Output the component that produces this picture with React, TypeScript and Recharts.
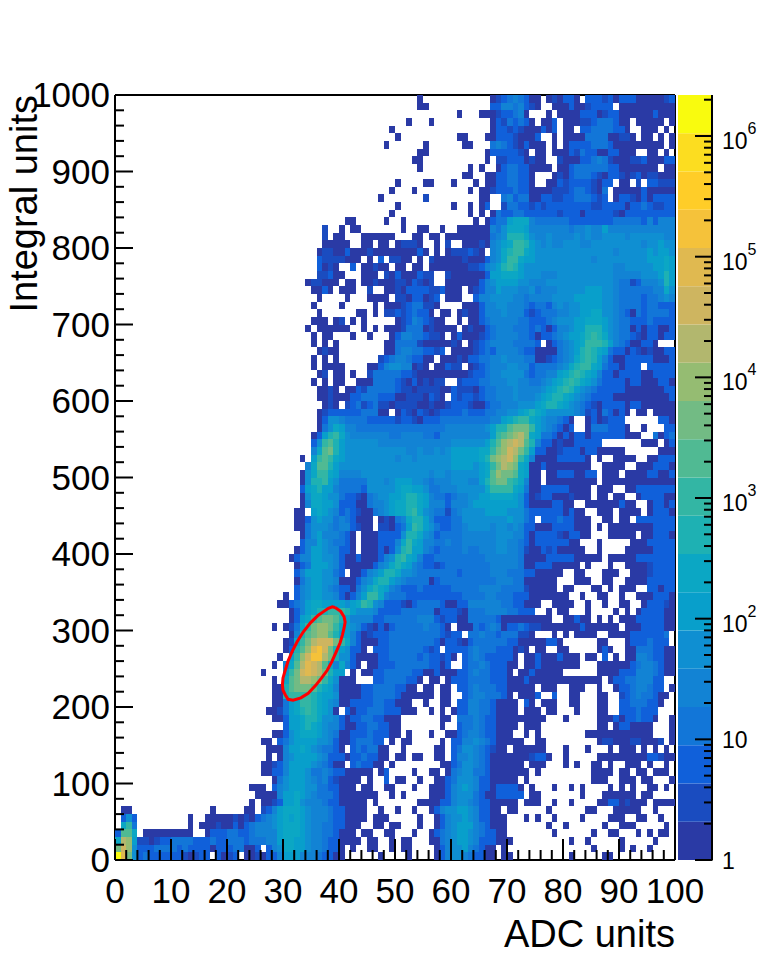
import { BarChart, Bar, XAxis, YAxis, ScatterChart, Scatter, ReferenceLine } from "recharts";

const FONT = "'Liberation Sans', Arial, sans-serif";

// 20 contours of the log z palette, bottom to top
const palette = [
  "#2A3AA5", "#1A4CC0", "#1060DA", "#1276D8", "#1283D4", "#0F8FD2", "#089FCB", "#0BA7C4", "#1EB1B3", "#33B6A4",
  "#50BA93", "#72BB84", "#95BC72", "#B2B76E", "#CEB560", "#E0B950", "#F5C23A", "#FFCD28", "#FCDD20", "#F9FB0E",
];
const levelCodes = ".123456789abcdefghijk";

const xTicks = [0, 2, 4, 6, 8, 10, 12, 14, 16, 18, 20, 22, 24, 26, 28, 30, 32, 34, 36, 38, 40, 42, 44, 46, 48, 50, 52, 54, 56, 58, 60, 62, 64, 66, 68, 70, 72, 74, 76, 78, 80, 82, 84, 86, 88, 90, 92, 94, 96, 98, 100];
const yTicks = [0, 20, 40, 60, 80, 100, 120, 140, 160, 180, 200, 220, 240, 260, 280, 300, 320, 340, 360, 380, 400, 420, 440, 460, 480, 500, 520, 540, 560, 580, 600, 620, 640, 660, 680, 700, 720, 740, 760, 780, 800, 820, 840, 860, 880, 900, 920, 940, 960, 980, 1000];

// log10 of the palette axis ticks
const zMajor = [0, 1, 2, 3, 4, 5, 6];
const zMinor = [0.301, 0.477, 0.602, 0.699, 0.778, 0.845, 0.903, 0.954];
const zMaxLog = 6.34;

// the red selection outline, going round clockwise
const ellipseX = [39.3, 40.3, 40.9, 41.1, 40.9, 40.6, 40.2, 39.5, 38.7, 37.9, 36.9, 35.8, 34.5, 33.2, 31.8, 30.9, 30.4, 30.0, 29.9, 30.0, 30.4, 30.9, 31.6, 32.5, 33.6, 34.9, 36.3, 37.3, 38.1, 38.8, 39.3];
const ellipseY = [330, 325, 318, 311, 303, 294, 284, 272, 259, 248, 238, 228, 218, 212, 209, 210, 216, 222, 229, 238, 248, 260, 272, 285, 298, 310, 320, 325, 329, 331, 330];

// one entry per histogram row, top row first. "col:levels", "." is an empty bin, later pieces overwrite earlier ones
const histRows = [
  "54:1 67:1234543 74:11.121 80:331.333 87:23133311111 98:23",
  "54:11 67:3355453 74:21..11 80:131123 86:333.1111111111",
  "61:1 65:111 68:233451 77:1 79:1111333123311111131 97:111",
  "52:1 56:1 67:1324343 74:1.113.111 83:223444311.1211 94:1111.1",
  "49:1 67:1332321 74:11313.11 83:334444331..11 96:1.1",
  "50:1 61:11 66:1 67:1333211 74:13 77:.1.13 81:111 84:44441 89:1221.13 95:1 96:.1.13",
  "48:1 55:1 62:11 66:.4 68:54321 73:3 74:111.1.11 81:3333444 88:311111 94:1111.1",
  "54:11 66:1 67:33333213 74:.11.11 80:132433 86:1133111..11.1.",
  "53:11 66:1.223331211..2111 83:33454 88:2111223111 98:33",
  "54:1 63:1 65:1..1344333 73:3 74:1111.11 81:34444 86:44 88:33 90:1111111 97:.11",
  "66:3333333333333333333333333333333333 62:11 64:.. 66:11 68:334433 74:1 75:...1 79:2 80:13 82:444 85:3 86:2 87:1 88:3 89:32123 94:1 95:22 97:111",
  "66:3333333333333333333333333333333333 50:1 55:11 60:1 64:1 66:11 68:334433 74:1 75:..11 79:3 80:2 81:33 84:33 85:21 88:3.11 92:.2 94:.2 95:33 97:222",
  "66:3333333333333333333333333333333333 49:1 53:1 63:1 65:11 67:2333 71:4 72:33 74:1111 78:222 81:3 82:4 83:4 85:21 87:4 88:.11111 95:11 97:1111",
  "66:3333333333333333333333333333333333 47:1 55:2 65:1 66:11 67:.. 69:4 70:5 72:44 74:11 78:22 80:33 82:44 84:432 88:.1 90:33 92:21 93:1 94:31 96:333",
  "66:3333333333333333333333333333333333 50:1 60:1 63:1 65:1 67:.. 69:23 70:4 71:4 72:3 73:32 75:3 76:2 77:3 78:3 79:3 80:3 82:33 84:322 87:3 89:3 90:31 92:3 93:3 94:4 96:22 98:3",
  "66:3333333333333333333333333333333333 49:1 63:1 64:.. 65:1 66:.. 67:12 68:4 69:33 71:44 73:33 75:3 76:3 77:33 79:2 80:3 81:3 82:3 83:1 84:3 85:3 86:3 88:321 90:1 91:33 93:3 94:3 96:33 98:3",
  "66:5555555555555555555555555555555555 41:11 48:1 51:1 64:1 66:1 67:33 68:44 70:7 71:8 72:8 73:8 74:5 75:4 76:4 77:4 78:4 79:4 80:4 81:3 82:3 83:33 85:33 87:3 88:3 89:4 90:4 91:4 92:4 93:4 94:3 96:3",
  "66:5555555555555555555555555555555555 37:2 40:1 42:11 51:1 54:11 58:1 61:111111 67:5 68:4 69:6 70:8 71:8 72:8 73:7 74:5 75:5 76:5 78:5 80:5 81:4 82:5 83:5 84:6 85:5 86:5 87:7 88:5 89:5 90:5 91:5 92:5 93:5 94:5 95:5 96:5",
  "66:5555555555555555555555555555555555 37:2 39:11 44:111111 53:11 56:11 59:1111 63:11 65:1 66:1 67:4 68:5 69:6 70:9 71:9 72:9 73:8 74:6 75:5 76:5 77:6 78:5 79:5 80:5 81:5 82:6 83:5 84:6 85:5 86:5 87:6 88:6 89:6 90:6 91:5 92:6 93:6 94:6 95:6 96:6 97:6",
  "37:11111 44:11 47:11 50:1 51:222 54:1 57:1 59:2 60:..1 63:1 64:11 65:2 66:1 67:5 68:6 69:7 70:8 71:a 72:a 73:9 74:7 75:6 76:5 77:6 78:5 79:5 80:6 81:6 82:6 83:5 84:5 85:6 86:6 87:6 88:6 89:6 90:6 91:6 92:6 93:6 94:5 95:6 96:6 97:7 98:6 99:6",
  "36:122 39:11 41:3 42:111 45:2 46:11111111 54:3 55:1 57:1 59:1 60:222 63:3 64:2 65:1 66:.3 67:5 68:6 69:8 70:9 71:a 72:a 73:8 74:7 75:6 76:6 77:6 78:6666666 85:6 86:6 87:6 88:6 89:5 90:6 91:6 92:6 93:6 94:6 95:7 96:6 97:7 98:7 99:6",
  "36:3 37:22 39:22 41:111 45:1 47:3 49:22 51:11 54:1 56:2 57:11111 62:2 63:1 64:1 65:1 66:3 67:5 68:6 69:8 70:a 71:a 72:8 73:7 74:7 75:6 76:666666666 85:5 86:6 87:6 88:6 89:6 90:66 92:6 93:6 94:6 95:7 96:7 97:7 98:8 99:7",
  "36:3 37:1 38:2 39:1 42:3 44:11 46:2 47:11 50:11 53:11 56:1111111 63:2 64:2 65:3 66:5 67:6 68:7 69:9 70:a 71:9 72:7 73:6 74:6 75:6 76:6666666666666 89:5 90:5 91:6 92:6 93:6 94:6 95:6 96:7 97:7 98:8 99:7",
  "36:223 39:11 44:111 48:2 49:1 50:3 51:111 54:3 55:2 56:2 59:2 60:1111 64:11 66:3 67:7 68:7 69:8 70:8 71:8 72:7 73:6 74:6 75:6555666666666 86:6 87:6 88:6 89:5 90:5 91:5 92:5566 96:6 97:7 98:9 99:7",
  "34:122 37:111 41:11 44:11 46:2 47:111 50:22 52:1 53:3 54:2 55:1 56:2 59:11111 64:1 65:3 66:5 67:6 68:7 69:7 70:7 71:7 72:6 73:6 74:5 75:5 76:5 77:6666666 84:6 85:6 86:6 87:6 88:6 89:5 90:4 91:4 92:2 93:3 94:5 95:5 96:5 97:6 98:9 99:7",
  "35:11 37:3 38:1 40:111 45:2 48:11 50:2 51:1 52:3 53:33322 58:3 59:111 63:1 64:2 65:3 66:5 67:5 68:7 69:6 70:6 71:6 72:5 73:5 74:6 75:4 76:5 77:5 78:5 79:6 80:6 81:6 82:6 83:6 84:7 85:7 86:7 87:6 88:6 89:5 90:4 91:4 92:4 93:4 94:4 95:4 96:5 97:5 98:8 99:6",
  "36:1 41:1 45:1111 50:22 52:1 53:33 55:1 56:2 57:3 59:111 63:.1 64:3 65:5 66:5 67:6 68:6 69:6 70:6 71:5 72:5 73:4 74:5 75:5 76:5 77:5 78:6 79:6 80:6 81:6 82:7 83:7 84:7 85:7 86:7 87:6 88:6 89:5 90:4 91:4 92:4 93:4 94:3 95:4 96:4 97:5 98:6 99:5",
  "35:1 40:1 46:1 48:111 51:2 52:3 53:44 55:22 57:1 62:11 64:1 65:3 66:5 67:5 68:6 69:6 70:5 71:5 72:5 73:4 74:3 75:4 76:4 77:3 78:5 79:6 80:5 81:6 82:6 83:7 84:7 85:7 86:7 87:6 88:6 89:5 90:4 91:4 92:4 93:4 94:3 95:4 96:4 97:3 98:3 99:3",
  "36:1 43:11 46:1 48:22 50:3 51:2 52:3 53:4 54:33 56:1 58:11 61:1 62:21 64:1 65:3 66:5 67:5 68:5 69:6 70:5 71:5 72:5 73:3 74:2 75:3 76:4 77:4 78:4 79:5 80:5 81:6 82:6 83:7 84:7 85:8 86:8 87:6 88:6 89:5 90:4 91:3 92:1 93:4 94:3 95:4 96:4 97:4 98:4 99:3",
  "35:111 39:12 42:1 44:1 50:1 51:2 52:3 53:5 54:4 55:3 56:2 57:11 61:1 63:1 64:1 65:3 66:4 67:5 68:5 69:5 70:5 71:5 72:4 73:4 74:3 75:3 76:3 77:4 78:5 79:6 80:6 81:6 82:7 83:7 84:8 85:8 86:8 87:7 88:6 89:5 90:4 91:4 92:3 93:3 94:3 95:4 96:3 97:3 98:3 99:3",
  "34:1 36:111111 44:1 46:1 48:111 51:2 52:444 55:1 56:2 57:1111 62:1 63:2 64:1 65:1 66:3 67:4 68:5 69:5 70:5 71:4 72:4 73:4 74:3 75:4 76:3 77:1 78:3 79:5 80:5 81:6 82:7 83:7 84:9 85:9 86:9 87:7 88:6 89:5 90:4 91:4 92:1 93:3 94:1 95:3 96:3 97:1 98:1 99:3",
  "35:1 37:11 42:1 45:1 49:1 50:3 51:55 53:44 55:3 56:22 58:1 60:1 61:3 62:11 64:1 65:2 66:3 67:4 68:5 69:5 70:5 71:5 72:4 73:4 74:3 75:1 76:3 77:3 78:4 79:5 80:6 81:7 82:7 83:8 84:9 85:a 86:9 87:8 88:6 89:5 90:4 91:4 92:3 93:2 94:1 95:3 96:3 97:1 98:3 99:3",
  "35:1 37:1 39:1 48:11 50:4444 54:2 55:11111 60:2 61:1 63:1 64:2 65:3 66:4 67:5 68:5 69:5 70:5 71:4 72:4 73:4 74:4 75:3 76:. 77:1 78:3 79:4 80:5 81:6 82:7 83:8 84:a 85:a 86:a 87:9 88:7 89:5 90:4 91:3 92:1 93:1 94:3 95:3 96:1 97:.",
  "36:1 37:211 48:11 50:45544 55:3 56:3 57:2 58:3 60:1111 64:2 65:3 66:4 67:3 68:5 69:5 70:5 71:5 72:4 73:3 74:3 75:1 76:1 77:1 78:1 79:4 80:5 81:6 82:7 83:9 84:a 85:9 86:8 87:7 88:4 89:3 90:3 91:1 92:3 93:2 94:1 95:2 96:1 97:1 98:3 99:3",
  "35:1 37:1 39:1 47:23 49:4 50:55 52:4 53:33 55:11 58:111 61:2 62:1 63:33 65:4 66:4 67:5 68:5 69:6 70:5 71:5 72:5 73:4 74:4 75:1 76:1 77:2 78:3 79:4 80:5 81:6 82:8 83:9 84:a 85:9 86:7 87:5 88:3 89:1 90:1 91:3 92:3 93:3 94:3 95:3 96:1 97:1 98:1 99:3",
  "35:1 37:1111 45:11 47:3 48:5 49:6 50:6 51:5 52:5 53:1 54:2 55:1 57:11 59:3 60:22 63:1 64:2 65:3 66:4 67:5 68:5 69:5 70:6 71:6 72:5 73:5 74:3 75:4 76:4 77:4 78:4 79:5 80:6 81:8 82:9 83:a 84:a 85:8 86:7 87:4 88:3 89:3 90:1 91:3 92:3 93:3 94:.1 95:3 96:3 97:3 98:3 99:3",
  "36:1 37:2 39:11 42:1 45:2 46:4444 50:4 51:33 53:2 54:1 55:1111 59:1 60:111 63:2 64:3 65:3 66:4 67:5 68:5 69:6 70:6 71:6 72:6 73:4 74:3 75:4 76:4 77:5 78:5 79:7 80:8 81:9 82:a 83:9 84:8 85:7 86:5 87:3 88:3 89:1 90:3 91:3 92:3 93:3 94:1 95:1 96:3 97:3 98:3 99:3",
  "35:1 37:1 39:11 43:11 45:1 46:4444 50:3 51:2 52:1 53:3 54:1 55:2 56:1 57:22 59:.. 61:2 62:3 63:3 64:3 65:4 66:4 67:5 68:5 69:5 70:6 71:6 72:5 73:5 74:4 75:4 76:5 77:6 78:7 79:8 80:9 81:a 82:9 83:8 84:7 85:6 86:4 87:3 88:3 89:3 90:3 91:1 92:3 93:3 94:1 95:1 96:1 97:3 98:3 99:1",
  "36:112 39:1 41:11 43:3 44:2 45:4444 49:43 51:22 53:1 54:2222 58:11 60:3 61:222 64:1 65:3 66:4 67:4 68:5 69:5 70:5 71:6 72:5 73:5 74:5 75:5 76:6 77:7 78:8 79:9 80:a 81:9 82:7 83:6 84:5 85:4 86:3 87:3 88:3 89:3 90:3 91:1 92:1 93:1 94:1 95:1 96:1 97:1 98:3 99:3",
  "36:112 39:111 42:33 44:444 47:333 50:11 52:222 55:1 56:3 57:2 58:1 59:. 60:3 61:2 62:33 64:2 65:3 66:4 67:4 68:5 69:5 70:5 71:6 72:5 73:5 74:5 75:6 76:7 77:8 78:9 79:9 80:8 81:7 82:6 83:5 84:4 85:3 86:3 87:3 88:3 89:1 90:1 91:1 92:1 93:1 94:1 95:1 96:1 97:1 98:1 99:3",
  "37:12 39:1 41:2 42:3 43:4 44:2 45:3 46:4 47:22 49:1 50:2222 54:11 56:2 57:11 59:2 60:33 62:3 63:2 64:1 65:1 66:3 67:4 68:4 69:5 70:5 71:5 72:6 73:6 74:6 75:7 76:8 77:9 78:9 79:8 80:7 81:6 82:5 83:4 84:3 85:2 86:1 87:3 88:3 89:3 90:3 91:1 92:3 93:3 94:1 95:1 96:1 97:1 98:1 99:1",
  "36:1 37:233333 43:3 44:444 47:11 49:. 50:1 51:3 52:2 53:1 54:3 55:2 56:1 57:2 58:333 61:3 62:4 63:3 64:3 65:3 66:4 67:4 68:5 69:5 70:6 71:6 72:7 73:8 74:9 75:8 76:7 77:6 78:6 79:6 80:6 81:6 82:5 83:4 84:2 85:3 86:1 87:4 88:3 89:1 90:3 91:1 92:. 93:1 94:1 95:.1 97:1 98:1 99:1",
  "36:1 37:3 38:6 39:6 40:5 41:4444 45:33333 50:2 51:33 53:2 54:1 55:3 56:3 57:3 58:4 59:4 60:4 61:4 62:4 63:4 64:4 65:4 66:4 67:5 68:5 69:7 70:8 71:9 72:a 73:a 74:8 75:7 76:6 77:5 78:5 79:4 80:3 81:1 82:.. 84:1 85:3 86:1 87:2 88:3 89:3 90:3 91:.. 93:. 94:. 95:. 96:. 97:3 98:3 99:1",
  "36:1 37:4 38:6 39:8 40:7 41:5 42:5 43:4 44:4 45:4 46:4 47:4 48:4 49:4 50:4 51:4 52:4 53:4 54:4 55:4 56:4 57:4 58:4 59:5 60:5 61:5 62:5 63:5 64:5 65:5 66:6 67:7 68:9 69:9 70:b 71:c 72:c 73:c 74:a 75:7 76:6 77:5 78:4 79:3 80:1 81:3 82:.. 84:1 85:4 86:4 87:4 88:3 89:3 90:3 91:1 92:.. 94:1 95:. 96:.. 98:3 99:3",
  "35:1 36:3 37:7 38:9 39:a 40:8 41:6 42:5 43:5 44:5 45:5 46:5 47:5 48:5 49:4 50:4 51:5 52:5 53:5 54:5 55:4 56:4 57:3 58:5 59:5 60:5 61:5 62:5 63:5 64:5 65:5 66:5 67:7 68:a 69:b 70:c 71:d 72:e 73:c 74:8 75:7 76:4 77:4 78:3 79:1 80:3 81:1 82:3 83:3 84:1 85:3 86:3 87:3 88:3 89:3 90:3 91:1 92:1 93:1 94:.. 96:4 97:1 98:3 99:4",
  "35:3 36:6 37:a 38:b 39:9 40:7 41:6 42:6 43:6 44:6 45:6 46:6 47:5 48:5 49:5 50:5 51:5 52:5 53:5 54:5 55:5 56:5 57:5 58:5 59:5 60:6 61:6 62:6 63:6 64:6 65:6 66:7 67:9 68:b 69:d 70:e 71:f 72:e 73:b 74:9 75:5 76:3 77:3 78:1 79:2 80:1 81:1 82:3 83:3 84:3 85:3 86:3 87:.. 89:. 90:. 91:.. 93:. 94:1 95:1 96:1 97:. 98:1 99:3",
  "35:5 36:8 37:b 38:c 39:9 40:7 41:6 42:6 43:6 44:6 45:6 46:6 47:6 48:6 49:6 50:6 51:6 52:5 53:5 54:6 55:5 56:5 57:6 58:5 59:6 60:7 61:7 62:7 63:7 64:7 65:8 66:8 67:a 68:c 69:d 70:f 71:e 72:c 73:a 74:7 75:3 76:3 77:1 78:1 79:2 80:3 81:3 82:3 83:1 84:3 85:3 86:1 87:1 88:1 89:1 90:1 91:.. 93:. 94:. 95:.. 97:1 98:1 99:1",
  "33:1 34:. 35:7 36:a 37:b 38:a 39:8 40:7 41:6 42:6 43:6 44:6 45:6 46:6 47:6 48:6 49:6 50:5 51:6 52:6 53:5 54:6 55:6 56:6 57:6 58:6 59:6 60:7 61:7 62:7 63:7 64:7 65:8 66:9 67:c 68:d 69:e 70:f 71:d 72:a 73:8 74:5 75:1 76:1 77:1 78:1 79:3 80:3 81:3 82:3 83:3 84:1 85:. 86:1 87:. 88:. 89:1 90:1 91:1 92:1 93:.. 95:1 96:1 97:3 98:3 99:3",
  "34:5 35:8 36:b 37:b 38:9 39:7 40:6 41:6 42:6 43:6 44:6 45:6 46:6 47:6 48:6 49:6 50:6 51:6 52:6 53:6 54:6 55:6 56:6 57:6 58:6 59:6 60:7 61:7 62:7 63:7 64:6 65:7 66:8 67:a 68:c 69:e 70:d 71:c 72:8 73:7 74:1 75:1 76:3 77:1 78:1 79:1 80:1 81:1 82:1 83:1 84:1 85:.. 87:1 88:1 89:1 90:1 91:.1 92:.1 94:1 95:1 96:3 97:3 98:3 99:1",
  "33:1 34:6 35:8 36:a 37:a 38:8 39:7 40:5 41:5 42:5 43:5 44:6 45:6 46:6 47:6 48:6 49:6 50:6 51:6 52:6 53:6 54:6 55:6 56:5 57:6 58:6 59:5 60:6 61:6 62:6 63:6 64:6 65:7 66:8 67:b 68:d 69:c 70:c 71:b 72:8 73:7 74:1 75:1 76:. 77:1 78:1 79:3 80:3 81:3 82:1 83:1 84:3 85:3 86:.1 87:1 88:1 89:1 90:.1 91:1 92:1 93:1 94:1 95:3 96:3 97:1 98:1 99:3",
  "33:1 34:6 35:9 36:9 37:a 38:7 39:6 40:4 41:4 42:4 43:4 44:4 45:6 46:6 47:6 48:5 49:6 50:7 51:7 52:7 53:6 54:6 55:5 56:4 57:5 58:5 59:5 60:6 61:6 62:6 63:5 64:5 65:7 66:9 67:b 68:c 69:c 70:a 71:9 72:8 73:5 74:1 75:1 76:. 77:1 78:1 79:1 80:1 81:1 82:1 83:1 84:1 85:1 86:. 87:1 88:1 89:1 90:1 91:1 92:1 93:1 94:1 95:1 96:1 97:1 98:1 99:1",
  "33:3 34:7 35:8 36:9 37:7 38:7 39:5 40:4 41:4 42:4 43:4 44:3 45:6 46:6 47:6 48:6 49:6 50:7 51:8 52:8 53:7 54:7 55:6 56:4 57:4 58:5 59:5 60:5 61:6 62:6 63:6 64:6 65:6 66:8 67:a 68:a 69:a 70:a 71:8 72:7 73:4 74:1 75:1 76:3 77:3 78:3 79:3 80:3 81:1 82:1 83:1 84:1 85:.1 87:1 88:1 89:.1 90:.1 91:1 92:1 93:3 94:3 95:3 96:3 97:3 98:3 99:3",
  "33:1 34:6 35:8 36:8 37:7 38:6 39:6 40:4 41:3 42:3 43:2 44:1 45:4 46:5 47:6 48:6 49:7 50:7 51:8 52:9 53:9 54:8 55:7 56:5 57:4 58:4 59:3 60:4 61:5 62:5 63:6 64:6 65:7 66:7 67:8 68:8 69:8 70:8 71:7 72:6 73:3 74:1 75:2 76:3 77:3 78:1 79:1 80:1 81:2 82:1 83:1 84:1 85:. 86:1 87:1 88:. 89:1 90:1 91:.1 92:.1 93:1 94:3 95:3 96:3 97:3 98:1 99:1",
  "33:1 34:5 35:8 36:8 37:7 38:7 39:6 40:3 41:3 42:3 43:1 44:1 45:4 46:5 47:5 48:6 49:7 50:8 51:8 52:9 53:9 54:8 55:7 56:5 57:5 58:5 59:3 60:5 61:5 62:5 63:6 64:7 65:7 66:7 67:7 68:7 69:7 70:7 71:7 72:6 73:3 74:1 75:1 76:1 77:1 78:3 79:3 80:1 81:1 82:.1 83:.1 84:1 85:1 86:1 87:1 88:1 89:1 90:3 91:1 92:1 93:.1 94:.1 95:1 96:3 97:3 98:1 99:3",
  "32:11 34:.4 35:7 36:8 37:7 38:6 39:5 40:3 41:4 42:3 43:2 44:1 45:1 46:4 47:5 48:6 49:7 50:8 51:8 52:9 53:a 54:8 55:6 56:5 57:4 58:4 59:2 60:4 61:5 62:6 63:6 64:6 65:6 66:7 67:7 68:7 69:7 70:6 71:6 72:6 73:4 74:3 75:3 76:3 77:3 78:3 79:3 80:1 81:3 82:1 83:1 84:.1 85:.1 87:1 88:1 89:.1 90:1 91:1 92:1 93:1 94:.1 96:3 97:3 98:3 99:1",
  "32:11 34:3 35:6 36:7 37:6 38:6 39:4 40:5 41:4 42:3 43:1 44:1 45:1 46:. 47:1 48:2 49:1 50:4 51:5 52:8 53:9 54:9 55:7 56:5 57:3 58:3 59:3 60:4 61:4 62:6 63:6 64:6 65:6 66:6 67:6 68:6 69:6 70:7 71:6 72:6 73:4 74:3 75:. 76:3 77:3 78:3 79:4 80:3 81:3 82:1 83:1 84:1 85:.1 86:.1 87:1 88:1 89:.1 90:1 91:1 92:.1 93:3 94:3 95:3 96:3 97:3 98:3 99:3",
  "32:11 33:1 34:4 35:6 36:6 37:6 38:5 39:4 40:5 41:5 42:3 43:2 44:1 45:1 46:. 47:2 48:2 49:1 50:3 51:4 52:7 53:a 54:9 55:7 56:6 57:4 58:3 59:3 60:4 61:4 62:5 63:6 64:6 65:6 66:6 67:5 68:6 69:6 70:5 71:6 72:5 73:3 74:3 75:1 76:1 77:1 78:3 79:3 80:3 81:3 82:1 83:1 84:1 85:. 86:1 87:. 88:1 89:1 90:1 91:1 92:1 93:1 94:1 95:1 96:3 97:3 98:3 99:3",
  "33:1 34:4 35:6 36:7 37:5 38:5 39:5 40:4 41:3 42:1 43:. 44:1 45:1 46:1 47:3 48:3 49:3 50:3 51:6 52:9 53:9 54:8 55:6 56:5 57:3 58:4 59:4 60:4 61:4 62:5 63:5 64:5 65:5 66:5 67:5 68:6 69:6 70:6 71:5 72:5 73:3 74:1 75:3 76:3 77:3 78:3 79:2 80:1 81:3 82:3 83:1 84:1 85:.. 87:.1 88:1 89:1 90:1 91:1 92:1 93:. 94:1 95:1 96:3 97:3 98:3 99:1",
  "33:3 34:5 35:5 36:7 37:6 38:5 39:4 40:4 41:3 42:1 43:. 44:1 45:1 46:1 47:3 48:3 49:3 50:5 51:8 52:a 53:8 54:7 55:5 56:5 57:4 58:4 59:5 60:4 61:4 62:5 63:5 64:5 65:5 66:5 67:5 68:6 69:6 70:5 71:5 72:4 73:3 74:1 75:3 76:3 77:3 78:3 79:3 80:3 81:1 82:1 83:.1 84:.1 85:.1 87:.. 89:... 92:1 93:1 94:1 95:3 96:3 97:3 98:3 99:3",
  "32:1 33:3 34:5 35:7 36:7 37:6 38:5 39:5 40:3 41:3 42:1 43:. 44:1 45:1 46:1 47:3 48:1 49:3 50:6 51:9 52:a 53:7 54:7 55:5 56:4 57:3 58:4 59:4 60:4 61:4 62:5 63:4 64:4 65:5 66:5 67:5 68:6 69:6 70:5 71:5 72:4 73:2 74:1 75:1 76:3 77:2 78:3 79:1 80:1 81:1 82:1 83:1 84:.. 86:1 87:.. 89:.. 91:1 92:1 93:1 94:1 95:1 96:3 97:3 98:3 99:3",
  "31:1 32:3 33:5 34:5 35:7 36:7 37:6 38:6 39:5 40:3 41:1 42:1 43:3 44:1 45:1 46:1 47:3 48:5 49:6 50:9 51:a 52:8 53:7 54:5 55:3 56:3 57:4 58:4 59:4 60:4 61:4 62:4 63:4 64:4 65:4 66:5 67:5 68:5 69:5 70:5 71:5 72:4 73:1 74:1 75:1 76:1 77:3 78:3 79:3 80:3 81:3 82:1 83:1 84:1 85:1 86:1 87:.1 88:1 89:1 90:1 91:1 92:1 93:3 94:3 95:3 96:3 97:3 98:3 99:3",
  "32:1 33:3 34:4 35:7 36:7 37:7 38:6 39:5 40:3 41:1 42:1 43:1 44:1 45:1 46:3 47:5 48:6 49:8 50:9 51:8 52:7 53:5 54:4 55:3 56:3 57:2 58:3 59:4 60:4 61:4 62:4 63:4 64:4 65:4 66:4 67:5 68:5 69:5 70:5 71:5 72:4 73:1 74:1 75:3 76:3 77:3 78:1 79:1 80:1 81:1 82:1 83:.1 84:1 85:.. 87:.1 88:1 89:.. 91:1 92:1 93:1 94:1 95:2 96:3 97:3 98:3 99:3",
  "32:3 33:5 34:7 35:7 36:7 37:6 38:6 39:4 40:3 41:. 42:1 43:1 44:3 45:5 46:6 47:7 48:9 49:9 50:8 51:6 52:6 53:5 54:4 55:4 56:4 57:4 58:4 59:4 60:4 61:3 62:4 63:4 64:4 65:4 66:4 67:5 68:5 69:5 70:4 71:4 72:4 73:3 74:3 75:1 76:1 77:1 78:1 79:1 80:.1 81:.1 82:1 83:1 84:.. 86:.1 87:1 88:1 89:1 90:.. 92:1 93:1 94:1 95:2 96:3 97:3 98:3 99:3",
  "32:1 33:4 34:6 35:7 36:7 37:6 38:6 39:5 40:1 41:1 42:1 43:3 44:5 45:6 46:8 47:9 48:9 49:7 50:6 51:5 52:4 53:4 54:4 55:4 56:1 57:3 58:4 59:4 60:4 61:4 62:4 63:4 64:4 65:4 66:4 67:4 68:5 69:5 70:5 71:4 72:4 73:1 74:1 75:1 76:1 77:1 78:1 79:.1 80:.1 81:. 82:1 83:1 84:1 85:.. 87:1 88:1 89:.. 91:1 92:1 93:1 94:1 95:3 96:3 97:3 98:3 99:3",
  "32:3 33:5 34:6 35:7 36:7 37:6 38:5 39:4 40:3 41:3 42:1 43:4 44:6 45:8 46:9 47:8 48:7 49:5 50:4 51:3 52:3 53:3 54:4 55:3 56:3 57:3 58:3 59:3 60:4 61:4 62:4 63:4 64:4 65:5 66:5 67:5 68:5 69:4 70:4 71:4 72:4 73:2 74:1 75:1 76:1 77:1 78:1 79:. 80:1 81:1 82:.1 83:. 84:.1 85:1 86:1 87:.1 88:1 89:.1 90:1 91:1 92:1 93:.1 94:.1 95:3 96:3 97:1 98:3 99:3",
  "30:1 32:3 33:5 34:6 35:7 36:7 37:6 38:6 39:5 40:3 41:1 42:3 43:5 44:7 45:a 46:a 47:8 48:5 49:4 50:4 51:4 52:3 53:3 54:3 55:3 56:3 57:3 58:3 59:3 60:3 61:3 62:4 63:4 64:4 65:4 66:5 67:5 68:4 69:4 70:4 71:3 72:3 73:3 74:1 75:1 76:1 77:1 78:1 79:1 80:1 81:.. 83:1 84:.. 86:1 87:1 88:.. 90:1 91:.. 93:1 94:1 95:1 96:3 97:3 98:3 99:1",
  "29:11 31:3 32:4 33:5 34:7 35:8 36:8 37:7 38:7 39:7 40:7 41:6 42:7 43:8 44:a 45:9 46:6 47:5 48:3 49:3 50:3 51:2 52:1 53:3 54:4 55:4 56:4 57:4 58:3 59:1 60:1 61:3 62:3 63:5 64:5 65:5 66:5 67:5 68:5 69:4 70:4 71:3 72:3 73:1 74:1 75:1 76:.. 78:1 79:1 80:1 81:1 82:.. 84:1 85:.1 86:. 87:1 88:.. 90:1 91:1 92:.. 94:1 95:3 96:3 97:3 98:2 99:1",
  "31:1 32:3 33:5 34:7 35:8 36:a 37:b 38:b 39:b 40:a 41:7 42:7 43:6 44:6 45:6 46:5 47:3 48:3 49:3 50:3 51:4 52:4 53:4 54:4 55:4 56:4 57:1 58:3 59:3 60:3 61:2 62:1 63:4 64:4 65:4 66:5 67:5 68:5 69:5 70:4 71:4 72:3 73:3 74:3 75:.. 77:1 78:. 79:1 80:1 81:.. 84:1 85:.. 87:.. 89:1 90:. 91:1 92:. 93:1 94:3 95:3 96:3 97:3 98:1 99:1 34:7899aaa97",
  "31:1 32:3 33:6 34:8 35:9 36:b 37:c 38:d 39:c 40:a 41:7 42:5 43:5 44:5 45:5 46:3 47:3 48:4 49:4 50:4 51:4 52:4 53:4 54:5 55:5 56:5 57:3 58:2 59:3 60:3 61:1 62:1 63:4 64:4 65:4 66:4 67:4 68:3 69:1 70:1 71:1 72:1 73:1 74:1 75:1 76:1 77:1 78:.. 80:1 81:1 82:3 83:1 84:1 85:.1 88:1 89:.1 90:1 91:1 92:1 93:3 94:3 95:3 96:3 97:3 98:1 99:1 33:78abccb97",
  "28:1 30:1 31:2 32:4 33:7 34:9 35:b 36:c 37:e 38:d 39:c 40:a 41:7 42:6 43:5 44:3 45:2 46:1 47:3 48:1 49:3 50:4 51:4 52:4 53:4 54:4 55:5 56:4 57:4 58:3 59:1 60:. 61:1 62:1 63:1 64:4 65:3 66:4 67:5 68:4 69:1 70:3 71:3 72:4 73:3 74:2 75:2 76:1 77:1 78:1 79:1 80:1 81:1 82:1 83:3 84:1 85:1 86:1 87:1 88:1 89:1 90:.1 91:1 92:1 93:1 94:3 95:3 96:3 97:3 98:1 99:1 33:8acddca87",
  "31:1 32:5 33:8 34:a 35:c 36:e 37:f 38:f 39:d 40:a 41:7 42:5 43:3 44:1 45:2 46:3 47:3 48:3 49:4 50:4 51:4 52:4 53:4 54:4 55:4 56:4 57:4 58:3 59:2 60:3 61:3 62:.1 63:4 64:4 65:5 66:4 67:4 68:3 69:4 70:4 71:4 72:2 73:2 74:1 75:.. 77:. 78:1 79:.1 81:.1 82:1 83:1 84:1 85:1 86:.. 88:1 89:1 90:1 91:1 92:3 93:3 94:3 95:3 96:3 97:3 98:4 99:. 33:9bcddb97",
  "30:1 31:2 32:5 33:9 34:b 35:d 36:f 37:g 38:g 39:d 40:a 41:6 42:5 43:3 44:1 45:1 46:1 47:3 48:3 49:4 50:4 51:4 52:4 53:4 54:4 55:4 56:4 57:3 58:1 59:3 60:3 61:2 62:1 63:3 64:4 65:4 66:4 67:4 68:4 69:4 70:3 71:3 72:1 73:1 74:1 75:1 76:1 77:3 78:3 79:1 80:. 81:.. 83:.. 85:.1 86:1 87:1 88:.. 90:.1 91:1 92:3 93:3 94:3 95:4 96:3 97:3 98:3 99:. 32:8acefffca8",
  "30:1 31:3 32:7 33:a 34:c 35:e 36:g 37:i 38:h 39:e 40:a 41:6 42:3 43:3 44:1 45:. 46:3 47:3 48:3 49:4 50:4 51:4 52:4 53:4 54:4 55:3 56:2 57:3 58:.3 59:3 60:3 61:3 62:3 63:4 64:5 65:4 66:4 67:4 68:3 69:3 70:3 71:1 72:2 73:1 74:.1 76:1 77:.1 78:.1 79:1 80:1 81:.. 83:.. 85:. 86:1 87:3 88:1 89:.. 91:1 92:1 93:4 94:4 95:4 96:3 97:3 98:1 99:1 32:9bdghfc97",
  "29:1 31:4 32:8 33:b 34:d 35:g 36:h 37:i 38:f 39:d 40:9 41:6 42:3 43:1 44:1 45:1 46:1 47:3 48:3 49:4 50:4 51:4 52:4 53:4 54:3 55:4 56:3 57:3 58:2 59:3 60:1 61:.3 62:3 63:4 64:5 65:4 66:3 67:3 68:3 69:3 70:3 71:1 72:.1 73:1 74:1 75:3 76:1 77:1 78:1 79:3 80:1 81:1 82:1 83:. 84:1 85:1 86:.1 87:3 88:.1 89:1 90:.. 91:1 92:1 93:5 94:5 95:4 96:3 97:3 98:1 99:1 31:7adfhhec96",
  "28:1 30:5 31:7 32:a 33:c 34:f 35:h 36:h 37:g 38:e 39:b 40:8 41:5 42:3 43:1 44:. 45:1 46:1 47:3 48:3 49:3 50:4 51:4 52:4 53:4 54:4 55:4 56:3 57:3 58:1 59:3 60:.. 62:3 63:4 64:4 65:5 66:4 67:3 68:3 69:3 70:1 71:1 72:. 73:1 74:1 75:3 76:1 77:1 78:1 79:1 80:1 81:1 82:1 83:.. 85:.1 87:1 88:1 89:1 90:1 91:1 92:3 93:4 94:5 95:5 96:4 97:3 98:1 99:1 31:8begfeb85",
  "26:1 30:6 31:9 32:b 33:e 34:g 35:h 36:g 37:e 38:c 39:9 40:7 41:. 42:1 43:. 44:1 45:1 46:3 47:3 48:4 49:4 50:4 51:4 52:4 53:3 54:3 55:1 56:1 57:3 58:1 59:1 60:1 61:3 62:3 63:4 64:5 65:4 66:4 67:3 68:3 69:3 70:1 71:.3 72:1 73:1 74:3 75:1 76:1 77:1 78:1 79:1 80:.. 82:.. 84:.. 86:1 87:1 88:1 89:1 90:3 91:3 92:3 93:5 94:5 95:5 96:4 97:3 98:1 99:1 30:7acfgfec97",
  "28:1 30:8 31:a 32:c 33:e 34:f 35:f 36:d 37:c 38:9 39:7 40:1 41:1 42:1 43:. 44:.. 46:3 47:3 48:4 49:4 50:4 51:4 52:3 53:3 54:1 55:. 56:1 57:1 58:. 59:1 60:3 61:3 62:3 63:4 64:4 65:4 66:4 67:3 68:3 69:3 70:1 71:1 72:1 73:3 74:1 75:1 76:1 77:1 78:1 79:1 80:1 81:1 82:1 83:1 84:1 85:1 86:1 87:. 88:1 89:3 90:3 91:4 92:4 93:5 94:5 95:5 96:3 97:3 98:. 99:. 30:8bceedca86",
  "28:1 29:1 30:8 31:b 32:d 33:d 34:d 35:c 36:b 37:9 38:7 39:5 40:1 41:1 42:1 43:1 44:3 45:3 46:4 47:4 48:4 49:4 50:3 51:3 52:1 53:1 54:. 55:1 56:1 57:. 58:1 59:1 60:. 61:3 62:3 63:4 64:5 65:4 66:4 67:4 68:3 69:3 70:1 71:1 72:1 73:1 74:1 75:.1 76:1 77:1 78:1 79:.. 81:1 82:1 83:1 84:.. 86:1 87:.. 89:1 90:3 91:3 92:4 93:5 94:5 95:4 96:3 97:3 98:. 99:1 30:9bcccb987",
  "28:1 29:1 30:8 31:a 32:a 33:b 34:b 35:a 36:9 37:8 38:7 39:6 40:1 41:1 42:1 43:1 44:3 45:3 46:4 47:4 48:4 49:4 50:3 51:1 52:1 53:1 54:1 55:1 56:1 57:. 58:1 59:1 60:.. 62:3 63:4 64:5 65:5 66:4 67:4 68:4 69:3 70:1 71:.1 72:1 73:1 74:1 75:3 76:.. 78:3 79:.. 81:1 82:1 83:.. 86:1 87:1 88:.. 90:2 91:3 92:4 93:5 94:4 95:4 96:3 97:1 98:1 99:. 30:9aaaa987",
  "28:1 29:1 30:4 31:7 32:8 33:a 34:a 35:9 36:8 37:7 38:6 39:5 40:1 41:1 42:3 43:3 44:3 45:3 46:4 47:4 48:3 49:3 50:1 51:1 52:1 53:.. 55:1 56:.. 58:1 59:1 60:. 61:3 62:3 63:5 64:5 65:4 66:4 67:3 68:1 69:1 70:1 71:1 72:. 73:3 74:1 75:. 76:1 77:1 78:1 79:.. 81:1 82:1 83:.. 86:1 87:1 88:.. 90:3 91:3 92:4 93:4 94:4 95:3 96:3 97:1 98:.. 99:.",
  "27:11 29:2 30:4 31:7 32:8 33:9 34:a 35:9 36:8 37:7 38:6 39:1 40:. 41:3 42:1 43:3 44:3 45:4 46:4 47:4 48:3 49:3 50:3 51:1 52:1 53:1 54:.. 56:1 57:. 58:1 59:. 60:1 61:3 62:3 63:5 64:5 65:4 66:4 67:3 68:1 69:1 70:1 71:1 72:.3 73:1 74:1 75:1 76:.1 78:1 79:.. 82:1 83:.. 86:1 87:1 88:.. 90:3 91:3 92:3 93:4 94:3 95:3 96:3 97:.. 99:.",
  "28:1 29:1 30:3 31:7 32:7 33:8 34:9 35:9 36:8 37:6 38:6 39:5 40:3 41:1 42:3 43:3 44:4 45:4 46:3 47:3 48:1 49:1 50:1 51:.. 53:.1 54:.. 56:.. 58:1 59:1 60:. 61:4 62:4 63:4 64:5 65:4 66:3 67:3 68:1 69:1 70:1 71:1 72:1 73:1 74:1 75:1 76:1 77:.. 79:. 80:1 81:.. 84:.. 86:1 87:1 88:1 89:3 90:1 91:3 92:3 93:4 94:3 95:3 96:1 97:.. 99:1",
  "30:3 31:7 32:7 33:8 34:9 35:8 36:7 37:6 38:5 39:5 40:3 41:1 42:1 43:3 44:3 45:4 46:4 47:3 48:3 49:1 50:1 51:.. 53:.. 55:.. 57:.1 58:1 59:.. 61:3 62:4 63:4 64:5 65:4 66:3 67:3 68:1 69:1 70:1 71:1 72:.1 73:1 74:1 75:1 76:.. 79:. 81:.. 84:.. 86:1 87:1 88:. 89:1 90:3 91:3 92:1 93:1 94:1 95:1 96:.. 99:1",
  "28:11 30:3 31:6 32:7 33:8 34:8 35:8 36:7 37:6 38:5 39:4 40:1 41:1 42:3 43:3 44:3 45:4 46:3 47:3 48:3 49:1 50:1 51:. 52:1 53:.. 56:1 57:.. 59:1 60:1 61:3 62:4 63:5 64:5 65:4 66:3 67:3 68:1 69:1 70:1 71:.. 73:1 74:. 75:1 76:.. 78:.. 80:.. 83:. 84:1 85:1 86:1 87:1 88:1 89:1 90:1 91:1 92:1 93:1 94:1 95:1 96:.. 99:1",
  "26:11 29:3 30:4 31:6 32:7 33:7 34:7 35:7 36:6 37:6 38:5 39:3 40:1 41:1 42:3 43:4 44:4 45:4 46:3 47:3 48:.1 49:1 50:. 51:1 52:1 53:.. 55:.. 58:1 59:.1 60:3 61:3 62:5 63:5 64:6 65:5 66:4 67:3 68:1 69:1 70:1 71:1 72:1 73:.. 75:1 76:1 77:.. 81:.. 84:.. 86:1 87:2 88:2 89:1 90:1 91:1 92:2 93:2 94:1 95:1 96:1 97:2 98:. 99:1",
  "27:111 30:5 31:7 32:7 33:8 34:7 35:6 36:5 37:4 38:4 39:3 40:1 41:.3 42:3 43:4 44:3 45:4 46:4 47:1 48:1 49:.. 51:1 52:.. 55:.. 57:1 58:1 59:.1 60:3 61:4 62:6 63:6 64:5 65:4 66:3 67:2 68:1 69:1 70:.1 72:1 73:1 74:1 75:1 76:1 77:.. 80:1 81:.. 84:1 85:. 86:.1 87:.1 88:1 89:.1 90:1 91:1 92:1 93:. 94:1 95:.1 96:1 97:.1 98:1 99:.",
  "27:1 29:1 30:5 31:6 32:7 33:7 34:7 35:7 36:6 37:5 38:3 39:3 40:3 41:1 42:3 43:3 44:4 45:3 46:3 47:1 48:1 49:. 50:1 51:1 52:. 53:1 54:1 55:.. 57:1 58:1 59:.1 60:3 61:5 62:5 63:6 64:5 65:4 66:3 67:1 68:1 69:1 70:1 71:1 72:1 73:1 74:2 75:3 76:3 77:1 78:.. 80:1 81:.. 84:.. 86:1 87:1 88:1 89:1 90:1 91:1 92:1 93:1 94:1 95:3 96:3 97:2 98:1 99:1",
  "26:11 28:2 29:3 30:5 31:7 32:7 33:7 34:7 35:6 36:5 37:4 38:3 39:1 40:1 41:.3 42:3 43:4 44:3 45:3 46:1 47:1 48:.1 49:1 50:.. 52:.. 55:.1 56:.. 58:1 59:1 60:3 61:4 62:6 63:6 64:5 65:4 66:3 67:1 68:1 69:1 70:1 71:1 72:1 73:.1 75:1 76:1 77:.. 80:1 81:. 82:1 83:.. 85:1 86:1 87:.1 88:1 89:.. 91:1 92:1 93:1 94:.1 96:.1 97:.1 98:1 99:.",
  "26:11 28:33 30:5 31:7 32:7 33:7 34:6 35:4 36:4 37:5 38:4 39:3 40:3 41:1 42:1 43:1 44:1 45:1 46:.1 48:3 49:.. 51:.. 53:1 54:.. 56:1 57:1 58:.1 59:1 60:4 61:5 62:6 63:6 64:4 65:4 66:3 67:1 68:1 69:1 70:1 71:1 72:1 73:1 74:. 75:1 76:.. 78:.. 80:.. 82:.. 84:. 85:1 86:1 87:1 88:1 89:. 90:1 91:1 92:.1 94:1 95:. 96:1 97:1 98:1 99:.",
  "28:1 29:4 30:6 31:7 32:7 33:7 34:6 35:5 36:4 37:5 38:3 39:2 40:1 41:1 42:1 43:1 44:.1 46:.. 48:3 49:. 50:1 51:1 52:.. 54:1 55:.. 57:1 58:1 59:3 60:4 61:6 62:6 63:6 64:5 65:3 66:3 67:1 68:1 69:1 70:1 71:1 72:.1 74:. 75:.. 77:.. 80:.. 82:.. 84:.1 86:1 87:1 88:.. 90:1 91:1 92:1 93:. 94:1 95:1 96:.. 98:.1",
  "24:111 28:3 29:5 30:6 31:7 32:7 33:7 34:6 35:6 36:4 37:4 38:3 39:3 40:1 41:1 42:1 43:.1 45:1 46:.. 48:1 49:1 50:.. 53:1 55:.. 56:1 57:1 58:1 59:3 60:5 61:6 62:7 63:6 64:5 65:3 66:3 67:1 68:3 69:3 70:3 71:3 72:1 73:.1 75:.1 76:.. 78:1 79:.. 81:1 82:.1 84:.. 86:.. 88:1 89:.1 91:.1 92:1 93:.. 95:1 96:1 97:.1",
  "25:1111 29:5 30:7 31:7 32:8 33:7 34:6 35:5 36:4 37:4 38:4 39:3 40:1 41:1 42:1 43:1 44:1 45:1 46:1 47:.. 49:1 50:.1 52:.. 55:.1 57:1 58:1 59:3 60:5 61:6 62:6 63:6 64:4 65:3 66:1 67:1 68:3 69:3 70:3 71:3 72:3 73:.1 75:1 76:.. 78:.. 81:.. 83:1 84:.. 86:.1 88:1 89:1 90:1 91:1 92:1 93:.1 95:1 96:.. 99:.",
  "24:1 26:11 28:2 29:3 30:7 31:7 32:8 33:6 34:5 35:5 36:5 37:4 38:3 39:3 40:1 41:1 42:1 43:1 44:1 45:.1 47:.. 49:.. 52:.. 54:1 55:1 56:1 57:1 58:3 59:3 60:5 61:6 62:6 63:5 64:4 65:3 66:3 67:1 68:1 69:1 70:1 71:1 72:. 73:1 74:1 75:1 76:.. 78:1 79:.. 81:1 82:. 83:.. 86:1 87:1 88:3 89:3 90:1 91:2 92:1 93:1 94:1 95:.1 97:1 98:1 99:1",
  "1:11 17:1 23:11 26:2 27:3 28:5 29:7 30:8 31:8 32:8 33:7 34:6 35:5 36:5 37:5 38:4 39:3 40:3 41:1 42:1 43:1 44:1 45:.. 47:1 48:.. 50:1 51:.. 53:1 54:.. 56:1 57:3 58:5 59:6 60:6 61:7 62:7 63:6 64:5 65:3 66:3 67:1 68:1 69:.1 71:1 72:.. 74:.. 77:1 78:. 79:.. 82:.. 84:1 85:1 86:.. 88:.1 90:1 91:1 92:1 93:1 94:.. 96:1 97:.. 99:.",
  "1:363 13:1 16:11111 21:21 23:21 25:34 27:5 28:6 29:7 30:8 31:7 32:8 33:7 34:6 35:5 36:5 37:5 38:4 39:3 40:3 41:1 42:1 43:1 44:1 45:.1 47:1 48:1 49:.. 51:.. 54:1 55:.. 57:1 58:3 59:5 60:6 61:6 62:7 63:6 64:5 65:3 66:3 67:1 68:1 69:1 70:.. 72:.1 75:1 76:.. 78:1 79:.. 82:.1 85:.. 88:1 89:1 90:1 91:.. 93:1 94:1 95:.. 97:1 98:..",
  "1:8a4 13:1 15:111 18:2 19:11 21:31 23:34 25:5 26:5 27:5 28:6 29:7 30:8 31:8 32:8 33:7 34:6 35:5 36:5 37:4 38:4 39:3 40:3 41:1 42:1 43:1 44:.. 46:1 47:1 48:.1 50:1 51:.. 54:1 55:.. 57:1 58:3 59:5 60:6 61:7 62:7 63:7 64:5 65:4 66:3 67:1 68:1 69:1 70:.. 72:.. 74:.. 76:. 77:1 78:.. 80:1 81:.. 84:.. 87:1 88:. 90:1 91:1 92:1 93:.. 95:.. 97:.1 99:.",
  "0:3bb8.1 6:111111 12:11 16:1 17:33 19:3 20:4 21:4 22:3 23:3 24:4 25:5 26:5 27:5 28:5 29:7 30:8 31:8 32:8 33:7 34:6 35:5 36:5 37:4 38:4 39:3 40:1 41:1 42:1 43:.1 45:1 46:.. 48:1 49:1 50:.. 53:1 54:.. 56:1 57:3 58:4 59:5 60:6 61:7 62:7 63:6 64:5 65:4 66:3 67:3 68:1 69:1 70:. 71:.. 73:.. 76:.. 78:1 79:.. 82:.. 85:1 86:.. 88:1 89:1 90:.. 92:.1 94:.1 96:.1 98:1 99:.",
  "0:8ed722 6:123344 12:44 14:33 16:3 17:4 18:3 19:3 20:4 21:4 22:4 23:3 24:4 25:4 26:4 27:5 28:5 29:7 30:8 31:8 32:7 33:7 34:6 35:5 36:5 37:4 38:3 39:3 40:1 41:1 42:1 43:1 44:.1 46:1 47:.. 49:1 50:.1 52:1 53:.. 56:1 57:1 58:4 59:5 60:6 61:7 62:7 63:6 64:5 65:3 66:3 67:3 68:1 69:1 70:1 71:.. 73:.. 75:.. 78:.. 81:1 82:.. 84:1 85:.. 87:.. 90:1 91:.. 93:.. 95:. 96:1 97:.. 99:.",
  "0:cfd633 6:344443 12:4 13:3 14:3 15:3 16:3 17:1 18:3 19:3 20:3 21:4 22:4 23:1 24:1 25:3 26:. 27:3 28:5 29:6 30:8 31:8 32:7 33:7 34:6 35:5 36:5 37:4 38:3 39:3 40:1 41:. 42:1 43:.. 45:1 46:1 47:.. 49:1 50:.1 52:1 53:.. 56:.1 58:3 59:5 60:6 61:6 62:7 63:5 64:4 65:3 66:1 67:1 68:.1 69:1 70:.. 72:.. 74:.. 78:.. 80:.. 83:.. 85:1 86:.. 88:.. 90:1 91:. 92:1 93:.. 95:1 96:.. 98:. 99:.",
  "0:kgc6 4:3 5:4 6:3 7:3 8:3 9:3 10:3 11:3 12:2 13:1 14:2 15:3 16:3 17:. 18:3 19:1 20:2 21:3 22:. 23:1 24:1 25:2 26:1 27:3 28:3 29:5 30:7 31:7 32:7 33:5 34:5 35:5 36:4 37:3 38:3 39:1 40:1 41:.. 43:.. 45:.. 47:1 48:.. 50:. 52:1 53:.. 55:.. 57:1 58:3 59:5 60:6 61:6 62:5 63:4 64:3 65:3 66:1 67:1 68:. 69:1 70:1 71:.. 73:.. 75:. 76:.. 78:.. 80:.1 82:.. 84:.. 86:. 87:1 88:1 89:.. 91:.. 93:.. 95:.. 97:.. 99:.",
];

const cellMap = new Map<number, number>();
histRows.forEach((row, r) => {
  row.split(" ").forEach((token) => {
    const [start, codes] = token.split(":");
    [...codes].forEach((c, i) => {
      const col = Number(start) + i;
      if (col < 100) cellMap.set((99 - r) * 100 + col, levelCodes.indexOf(c));
    });
  });
});

const histData = [...cellMap.entries()]
  .filter(([, level]) => level > 0)
  .map(([key, level]) => ({ x: (key % 100) + 0.5, y: Math.floor(key / 100) * 10 + 5, level }));
const ellipseData = ellipseX.map((x, i) => ({ x, y: ellipseY[i] }));

const bandKeys = palette.map((_, i) => `band${i}`);
const barRow: Record<string, number | string> = { name: "z" };
bandKeys.forEach((k) => (barRow[k] = zMaxLog / palette.length));

const CELL_W = 5.6;
const CELL_H = 7.65;

// toFixed first, neighbouring bins must round to the same edge or a white seam shows
const snap = (v: number) => Math.round(Number(v.toFixed(2)));

function HistCell(props: any) {
  const { cx, cy, payload } = props;
  const x0 = snap(cx - CELL_W / 2);
  const x1 = snap(cx + CELL_W / 2);
  const y0 = snap(cy - CELL_H / 2);
  const y1 = snap(cy + CELL_H / 2);
  return <rect x={x0} y={y0} width={x1 - x0} height={y1 - y0} fill={palette[payload.level - 1]} shapeRendering="crispEdges" />;
}

function XTick(props: any) {
  const { x, payload } = props;
  const major = payload.value % 10 === 0;
  return (
    <g>
      <line x1={x} x2={x} y1={860} y2={major ? 839 : 850} stroke="#000" strokeWidth={2} />
      {major && (
        <text x={x} y={903} textAnchor="middle" fontSize={35} fontFamily={FONT} fill="#000">
          {payload.value}
        </text>
      )}
    </g>
  );
}

function YTick(props: any) {
  const { y, payload } = props;
  const major = payload.value % 100 === 0;
  return (
    <g>
      <line x1={115} x2={major ? 133 : 124} y1={y} y2={y} stroke="#000" strokeWidth={2} />
      {major && (
        <text x={110} y={y + 12} textAnchor="end" fontSize={35} fontFamily={FONT} fill="#000">
          {payload.value}
        </text>
      )}
    </g>
  );
}

function ZTick(props: any) {
  const { y, payload } = props;
  const v = payload.value as number;
  const major = zMajor.includes(v);
  const tickLeft = major ? 695 - 678 : 704 - 678;
  return (
    <g>
      <line x1={tickLeft} x2={34.5} y1={y} y2={y} stroke="#000" strokeWidth={2} />
      {major && v <= 1 && (
        <text x={44} y={y + 9} fontSize={23} fontFamily={FONT} fill="#000">
          {v === 0 ? "1" : "10"}
        </text>
      )}
      {major && v > 1 && (
        <text x={44} y={y + 13} fontSize={23} fontFamily={FONT} fill="#000">
          10
          <tspan dy={-15} fontSize={16}>
            {v}
          </tspan>
        </text>
      )}
    </g>
  );
}

const zTicks = zMajor.flatMap((k) => [k, ...zMinor.map((m) => k + m)]).filter((v) => v <= zMaxLog);

export default function App() {
  return (
    <div style={{ position: "absolute", left: 0, top: 0, width: 767, height: 956, background: "#fff" }}>
      <div style={{ position: "absolute", left: 0, top: 0 }}>
        <ScatterChart width={767} height={956} margin={{ top: 95, right: 92, bottom: 0, left: 0 }}>
          <Scatter data={histData} dataKey="y" shape={HistCell} isAnimationActive={false} />
          <Scatter
            data={ellipseData}
            dataKey="y"
            line={{ stroke: "#FF0000", strokeWidth: 3 }}
            lineType="joint"
            shape={() => <g />}
            isAnimationActive={false}
          />
          <ReferenceLine y={1000} stroke="#000" strokeWidth={2} />
          <ReferenceLine x={100} stroke="#000" strokeWidth={2} />
          <XAxis
            type="number"
            dataKey="x"
            domain={[0, 100]}
            ticks={xTicks}
            interval={0}
            height={96}
            tick={XTick}
            tickLine={false}
            axisLine={{ stroke: "#000", strokeWidth: 2 }}
          />
          <YAxis
            type="number"
            dataKey="y"
            domain={[0, 1000]}
            ticks={yTicks}
            interval={0}
            width={115}
            tick={YTick}
            tickLine={false}
            axisLine={{ stroke: "#000", strokeWidth: 2 }}
          />
          <text x={675} y={947} textAnchor="end" fontSize={38} fontFamily={FONT} fill="#000">
            ADC units
          </text>
          <text x={37} y={95} transform="rotate(-90 37 95)" textAnchor="end" fontSize={38} fontFamily={FONT} fill="#000">
            Integral units
          </text>
        </ScatterChart>
      </div>
      <div style={{ position: "absolute", left: 678, top: 0 }}>
        <BarChart width={89} height={956} data={[barRow]} margin={{ top: 95, right: 0, bottom: 96, left: 0 }} barCategoryGap={0}>
          <XAxis dataKey="name" hide />
          <YAxis
            type="number"
            orientation="right"
            domain={[0, zMaxLog]}
            ticks={zTicks}
            interval={0}
            width={55}
            tick={ZTick}
            tickLine={false}
            axisLine={{ stroke: "#000", strokeWidth: 2 }}
          />
          {bandKeys.map((k, i) => (
            <Bar key={k} dataKey={k} stackId="z" fill={palette[i]} isAnimationActive={false} />
          ))}
        </BarChart>
      </div>
    </div>
  );
}
